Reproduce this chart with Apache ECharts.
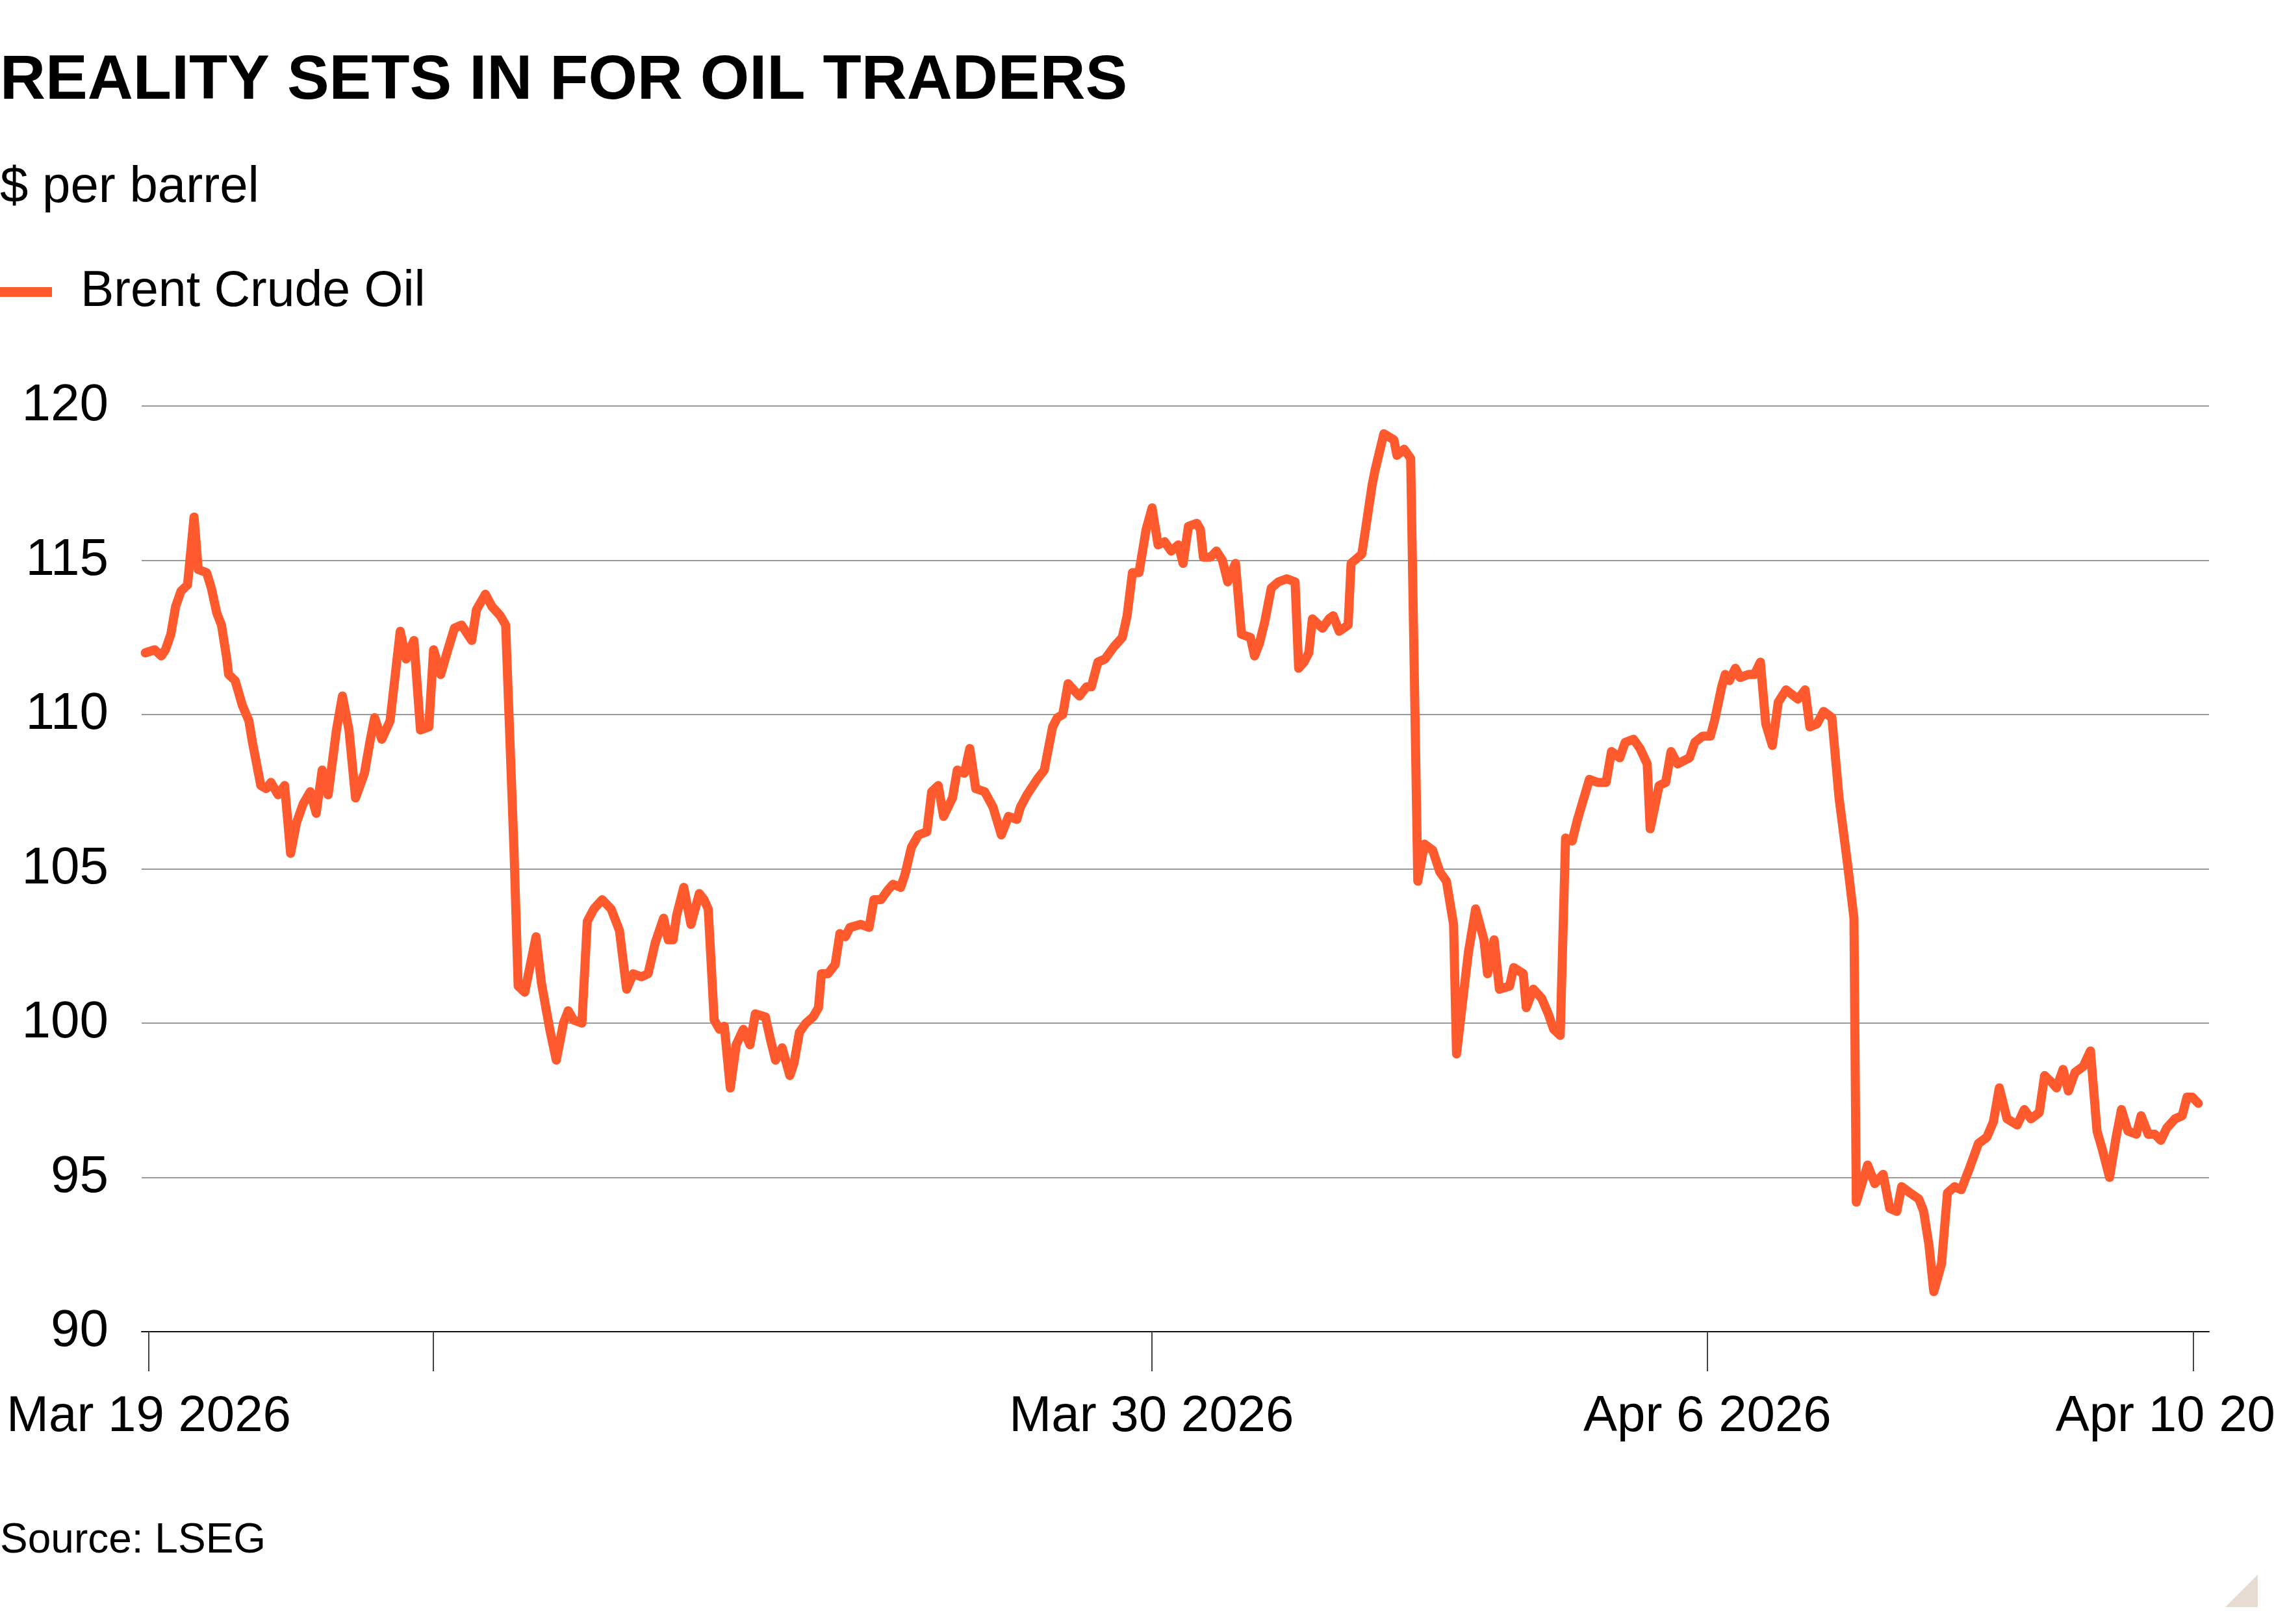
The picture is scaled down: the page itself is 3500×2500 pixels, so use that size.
<!DOCTYPE html>
<html>
<head>
<meta charset="utf-8">
<script src="https://cdn.jsdelivr.net/npm/echarts@6/dist/echarts.min.js"></script>
<style>
	html, body { margin: 0; padding: 0; background: #fff; }
	#chart { width: 3500px; height: 2500px; }
</style>
</head>
<body>
<div id="chart"></div>
<script>
// trading time since the Mar 19 open, in hours
var hours = [
	-0.6, 1.0, 2.1, 2.8, 3.7, 4.5, 5.4, 6.5, 7.6, 8.3, 9.7, 10.5, 11.4, 12.2, 13.1, 13.4, 14.5, 15.7, 16.8, 17.4,
	18.2, 18.8, 19.7, 20.5, 21.7, 22.8, 23.8, 24.8, 25.9, 27.1, 28.1, 29.1, 30.1, 31.5, 32.5, 33.6, 34.7, 36.2, 37.1, 37.9,
	39.1, 40.5, 42.2, 43.2, 44.5, 45.6, 47.0, 47.8, 49.0, 50.2, 51.3, 52.5, 54.2, 55.0, 56.5, 57.6, 59.0, 59.9, 61.3, 62.0,
	63.1, 65.0, 65.9, 67.3, 68.4, 69.6, 70.4, 71.3, 72.7, 73.6, 74.7, 76.1, 77.6, 79.0, 80.2, 81.3, 82.7, 83.8, 85.0,
	86.4, 87.2, 88.0, 88.6, 89.8, 91.0, 92.4, 93.2, 93.9, 94.4, 94.9, 95.8, 96.6, 97.6, 98.6, 99.8, 100.9, 101.8, 103.5, 104.3,
	105.2, 106.3, 107.6, 108.3, 109.2, 110.3, 111.5, 112.4, 112.9, 114.0, 115.2, 116.0, 116.9, 117.7, 119.5, 120.9, 121.7, 122.9, 124.0, 124.9,
	126.2, 126.9, 128.0, 129.2, 130.6, 131.4, 132.5, 133.4, 134.9, 135.7, 136.9, 137.8, 138.8, 140.3, 141.7, 143.1, 144.3, 145.7, 146.3, 147.4,
	149.1, 150.3, 151.7, 152.5, 153.4, 154.3, 155.7, 156.2, 157.4, 158.2, 159.3, 160.5, 162.0, 163.4, 164.2, 165.1, 166.2, 167.4, 168.4, 169.4,
	170.5, 171.6, 172.8,
	173.6, 174.5, 175.9, 176.5, 177.0, 178.2, 179.2, 180.2, 181.1, 182.4, 183.4, 184.9, 185.6, 186.4, 187.3, 188.4, 189.6, 191.0, 192.4, 193.0,
	193.9, 194.7, 195.3, 197.0, 198.1, 198.8, 199.8, 201.3, 201.8, 203.6, 204.3, 205.3, 205.8, 207.3, 209.0, 209.5, 210.7, 211.8, 213.0, 214.1,
	215.5, 216.7, 217.8, 219.0, 219.5, 220.7, 221.5, 222.7, 224.1, 224.7, 225.8, 226.7, 228.4, 229.1, 230.7, 231.2, 232.4, 233.8, 234.9, 235.8,
	236.9, 237.8, 238.9, 239.8, 241.8, 243.2, 244.6, 245.5, 246.9, 247.8, 249.2, 250.3, 251.5, 252.0, 253.5, 254.6, 255.5, 256.6, 258.6, 259.5,
	260.8,
	262.1, 262.8, 264.0, 264.6, 265.3, 266.3, 267.1, 268.5, 269.5, 270.5, 271.4, 272.5, 273.5, 274.8, 276.8, 278.0, 278.8, 280.0, 281.1, 282.5,
	283.7, 285.1, 286.2, 286.6, 288.5, 289.7, 291.1, 292.2, 293.4, 294.2, 295.6, 297.1, 297.9, 298.8, 299.6, 300.9, 301.9, 303.1, 304.2, 305.6,
	307.1, 308.5, 309.6, 310.6, 311.9, 313.6, 314.8, 315.9, 317.3, 318.2, 319.3, 320.2, 321.3, 322.2, 323.3, 324.7, 325.9, 327.0, 327.9, 329.1,
	330.2, 331.1, 332.2, 333.6, 334.4, 335.6, 336.7, 337.7, 338.7, 340.1, 341.3, 342.1, 343.0, 344.0
];
// Brent crude, $ per barrel
var brent = [
	112.0, 112.1, 111.9, 112.1, 112.6, 113.5, 114.0, 114.2, 116.4, 114.7, 114.6, 114.1, 113.3, 112.9, 111.8, 111.3, 111.1, 110.3, 109.8, 109.1,
	108.3, 107.7, 107.6, 107.8, 107.4, 107.7, 105.5, 106.5, 107.1, 107.5, 106.8, 108.2, 107.4, 109.5, 110.6, 109.5, 107.3, 108.1, 109.1, 109.9,
	109.2, 109.8, 112.7, 111.8, 112.4, 109.5, 109.6, 112.1, 111.3, 112.1, 112.8, 112.9, 112.4, 113.4, 113.9, 113.5, 113.2, 112.9, 105.6, 101.2,
	101.0, 102.8, 101.3, 99.8, 98.8, 100.0, 100.4, 100.1, 100.0, 103.3, 103.7, 104.0, 103.7, 103.0, 101.1, 101.6, 101.5, 101.6, 102.6,
	103.4, 102.7, 102.7, 103.5, 104.4, 103.2, 104.2, 104.0, 103.7, 101.9, 100.1, 99.8, 99.9, 97.9, 99.3, 99.8, 99.3, 100.3, 100.2, 99.5,
	98.8, 99.2, 98.3, 98.7, 99.7, 100.0, 100.2, 100.5, 101.6, 101.6, 101.9, 102.9, 102.8, 103.1, 103.2, 103.1, 104.0, 104.0, 104.3, 104.5,
	104.4, 104.8, 105.7, 106.1, 106.2, 107.5, 107.7, 106.7, 107.3, 108.2, 108.1, 108.9, 107.6, 107.5, 107.0, 106.1, 106.7, 106.6, 107.0, 107.4,
	107.9, 108.2, 109.6, 109.9, 110.0, 111.0, 110.7, 110.6, 110.9, 110.9, 111.7, 111.8, 112.2, 112.5, 113.2, 114.6, 114.6, 116.0, 116.7, 115.5,
	115.6, 115.3, 115.5,
	114.9, 116.1, 116.2, 116.0, 115.1, 115.1, 115.3, 115.0, 114.3, 114.9, 112.6, 112.5, 111.9, 112.3, 113.0, 114.1, 114.3, 114.4, 114.3, 111.5,
	111.7, 112.0, 113.1, 112.8, 113.1, 113.2, 112.7, 112.9, 114.9, 115.2, 116.1, 117.4, 117.9, 119.1, 118.9, 118.4, 118.6, 118.3, 104.6, 105.8,
	105.6, 104.9, 104.6, 103.2, 99.0, 101.0, 102.3, 103.7, 102.7, 101.6, 102.7, 101.1, 101.2, 101.8, 101.6, 100.5, 101.1, 100.8, 100.3, 99.8,
	99.6, 106.0, 105.9, 106.6, 107.9, 107.8, 107.8, 108.8, 108.6, 109.1, 109.2, 108.9, 108.4, 106.3, 107.7, 107.8, 108.8, 108.4, 108.6, 109.1,
	109.3,
	109.3, 109.8, 110.9, 111.3, 111.1, 111.5, 111.2, 111.3, 111.3, 111.7, 109.7, 109.0, 110.4, 110.8, 110.5, 110.8, 109.6, 109.7, 110.1, 109.9,
	107.3, 105.2, 103.4, 94.2, 95.4, 94.8, 95.1, 94.0, 93.9, 94.7, 94.5, 94.3, 93.9, 92.8, 91.3, 92.2, 94.5, 94.7, 94.6, 95.3,
	96.1, 96.3, 96.8, 97.9, 96.9, 96.7, 97.2, 96.9, 97.1, 98.3, 98.1, 97.9, 98.5, 97.8, 98.4, 98.6, 99.1, 96.5, 95.9, 95.0,
	96.3, 97.2, 96.5, 96.4, 97.0, 96.4, 96.4, 96.2, 96.6, 96.9, 97.0, 97.6, 97.6, 97.4
];
// x axis ticks (hours) and their labels; the Mar 23 tick has no label
var tickHours = [0, 47.7, 168.3, 261.6, 343.2];
var tickLabels = ['Mar 19 2026', '', 'Mar 30 2026', 'Apr 6 2026', 'Apr 10 2026'];
var yTicks = [90, 95, 100, 105, 110, 115, 120];

var FONT = '"Liberation Sans", Arial, sans-serif';
var myChart = echarts.init(document.getElementById('chart'));

var seriesData = [];
for (var i = 0; i < hours.length; i++) {
	seriesData.push([hours[i], brent[i]]);
}

var option = {
	animation: false,
	backgroundColor: '#fff',
	title: [{
		text: 'REALITY SETS IN FOR OIL TRADERS',
		left: 0,
		top: 77,
		padding: 0,
		textStyle: {
			fontFamily: FONT,
			fontWeight: 'bold',
			fontSize: 97,
			color: '#000'
		}
	}, {
		text: '$ per barrel',
		left: 0,
		top: 250,
		padding: 0,
		textStyle: { fontFamily: FONT, fontWeight: 'normal', fontSize: 78, color: '#000' }
	}, {
		text: 'Source: LSEG',
		left: 0,
		top: 2340,
		padding: 0,
		textStyle: { fontFamily: FONT, fontWeight: 'normal', fontSize: 64, color: '#000' }
	}],
	legend: {
		data: ['Brent Crude Oil'],
		left: 0,
		top: 411,
		padding: 0,
		icon: 'rect',
		itemWidth: 80,
		itemHeight: 15,
		textStyle: {
			fontFamily: FONT,
			fontSize: 77,
			color: '#000',
			padding: [0, 0, 0, 39]
		}
	},
	grid: {
		left: 218,
		right: 100,
		top: 625,
		bottom: 450,
		containLabel: false,
		outerBoundsMode: 'none'
	},
	xAxis: {
		type: 'value',
		min: -1.2,
		max: 345.8,
		axisLine: { show: true, lineStyle: { color: '#111', width: 2 } },
		axisTick: {
			show: true,
			customValues: tickHours,
			length: 61,
			lineStyle: { color: '#444', width: 2 }
		},
		axisLabel: {
			customValues: [tickHours[0], tickHours[2], tickHours[3], tickHours[4]],
			margin: 92,
			fontFamily: FONT,
			fontSize: 78,
			color: '#000',
			hideOverlap: false,
			formatter: function(v) {
				var best = 0;
				for (var k = 0; k < tickHours.length; k++) {
					if (Math.abs(tickHours[k] - v) < Math.abs(tickHours[best] - v)) best = k;
				}
				return tickLabels[best];
			}
		},
		splitLine: { show: false }
	},
	yAxis: {
		type: 'value',
		min: yTicks[0],
		max: yTicks[yTicks.length - 1],
		interval: 5,
		axisLine: { show: false },
		axisTick: { show: false },
		axisLabel: {
			margin: 51,
			fontFamily: FONT,
			fontSize: 80,
			color: '#000'
		},
		splitLine: { show: true, lineStyle: { color: '#9a9a9a', width: 2 } }
	},
	series: [{
		name: 'Brent Crude Oil',
		type: 'line',
		data: seriesData,
		showSymbol: false,
		color: '#ff5a2e',
		lineStyle: { width: 14, color: '#ff5a2e', cap: 'round', join: 'round' }
	}],
	graphic: [{
		type: 'polygon',
		shape: { points: [[3425, 2474], [3475, 2474], [3475, 2424]] },
		style: { fill: '#e6dcd2' }
	}]
};
myChart.setOption(option);
</script>
</body>
</html>
